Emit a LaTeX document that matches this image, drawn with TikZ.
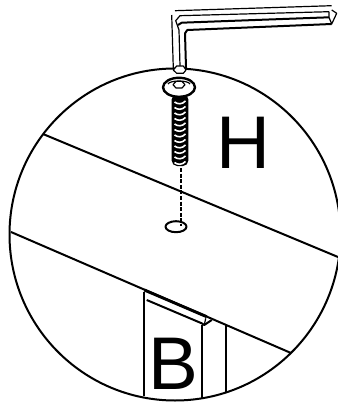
\documentclass[tikz,border=0pt]{standalone}
\usepackage{fontspec}
\setmainfont{Liberation Sans}
\begin{document}
\begin{tikzpicture}[
    x=0.75pt, y=-0.75pt,
    outline/.style={line width=1.5pt, line join=round},
    thin line/.style={line width=0.9pt, line join=round},
    letter/.style={inner sep=0pt, font=\fontsize{56}{60}\selectfont}
]
\useasboundingbox (0,0) rectangle (338,403);

% view circle and beam edges
\draw [outline] (175,234.5) ellipse [x radius=165.5, y radius=166];
\draw [outline] (43,134) -- (338,257);
\draw [outline] (11,232) -- (291,353);

% hex key
\draw [thin line] (175,10.7) -- (331.7,5.7);
\draw [thin line] (171.7,15) -- (173.3,68.3);
\draw [thin line] (329,11.7) -- (180,15.7) -- (175.7,20.7) -- (179,30) -- (180,66);
\draw [outline] (329,17.3) -- (181.7,22.7) -- (178,25);
\draw [outline] (331.7,24) -- (187.3,30) -- (185,33.3) -- (186,68);
\draw [thin line] (329,11.7) -- (329,17.3) -- (331.7,24) -- (336.7,13.3) -- (331.7,10);
\draw [thin line, fill=white] (173.3,70) -- (176.7,66) -- (183.3,66) -- (186,70) -- (183.3,73.3) -- (176.7,73.3) -- cycle;

% screw
\fill [rounded corners=4pt] (171.7,94) rectangle (188.3,166);
\foreach \y in {102,107.5,...,163}
    \draw [white, line width=1.2pt] (174.5,\y) .. controls (178,\y+2.5) and (182,\y+2.5) .. (185.5,\y-1);
\draw [outline, line width=1.8pt, fill=white] (179,87.3) ellipse [x radius=16, y radius=9.5];
\draw [thin line] (168,84) .. controls (170,80) and (188,80) .. (190,84);
\draw [thin line, fill=white] (173,84.7) -- (176,81.4) -- (182,81.4) -- (185,84.7) -- (182,88) -- (176,88) -- cycle;

% hole
\draw [outline, dash pattern=on 3pt off 1.2pt] (180.7,168) -- (180.7,226);
\draw [outline] (176,226.7) ellipse [x radius=10.5, y radius=5.5];

% bracket
\draw [outline] (144.3,292) -- (144.3,396);
\draw [outline] (201.7,325) -- (201.7,398);
\draw [outline] (225.7,325) -- (225.7,392);
\draw [line width=2.2pt] (144.3,290) -- (206.7,316.7);
\draw [outline] (146.7,300) -- (201.7,323.3) -- (204.3,325) -- (211.7,320);
\draw [thin line] (204.3,325) -- (205.7,318.3);

\node (letterH) [letter, anchor=center] at (243.5,142.5) {H};
\node (letterB) [letter, anchor=center] at (173,364) {B};
\end{tikzpicture}
\end{document}
